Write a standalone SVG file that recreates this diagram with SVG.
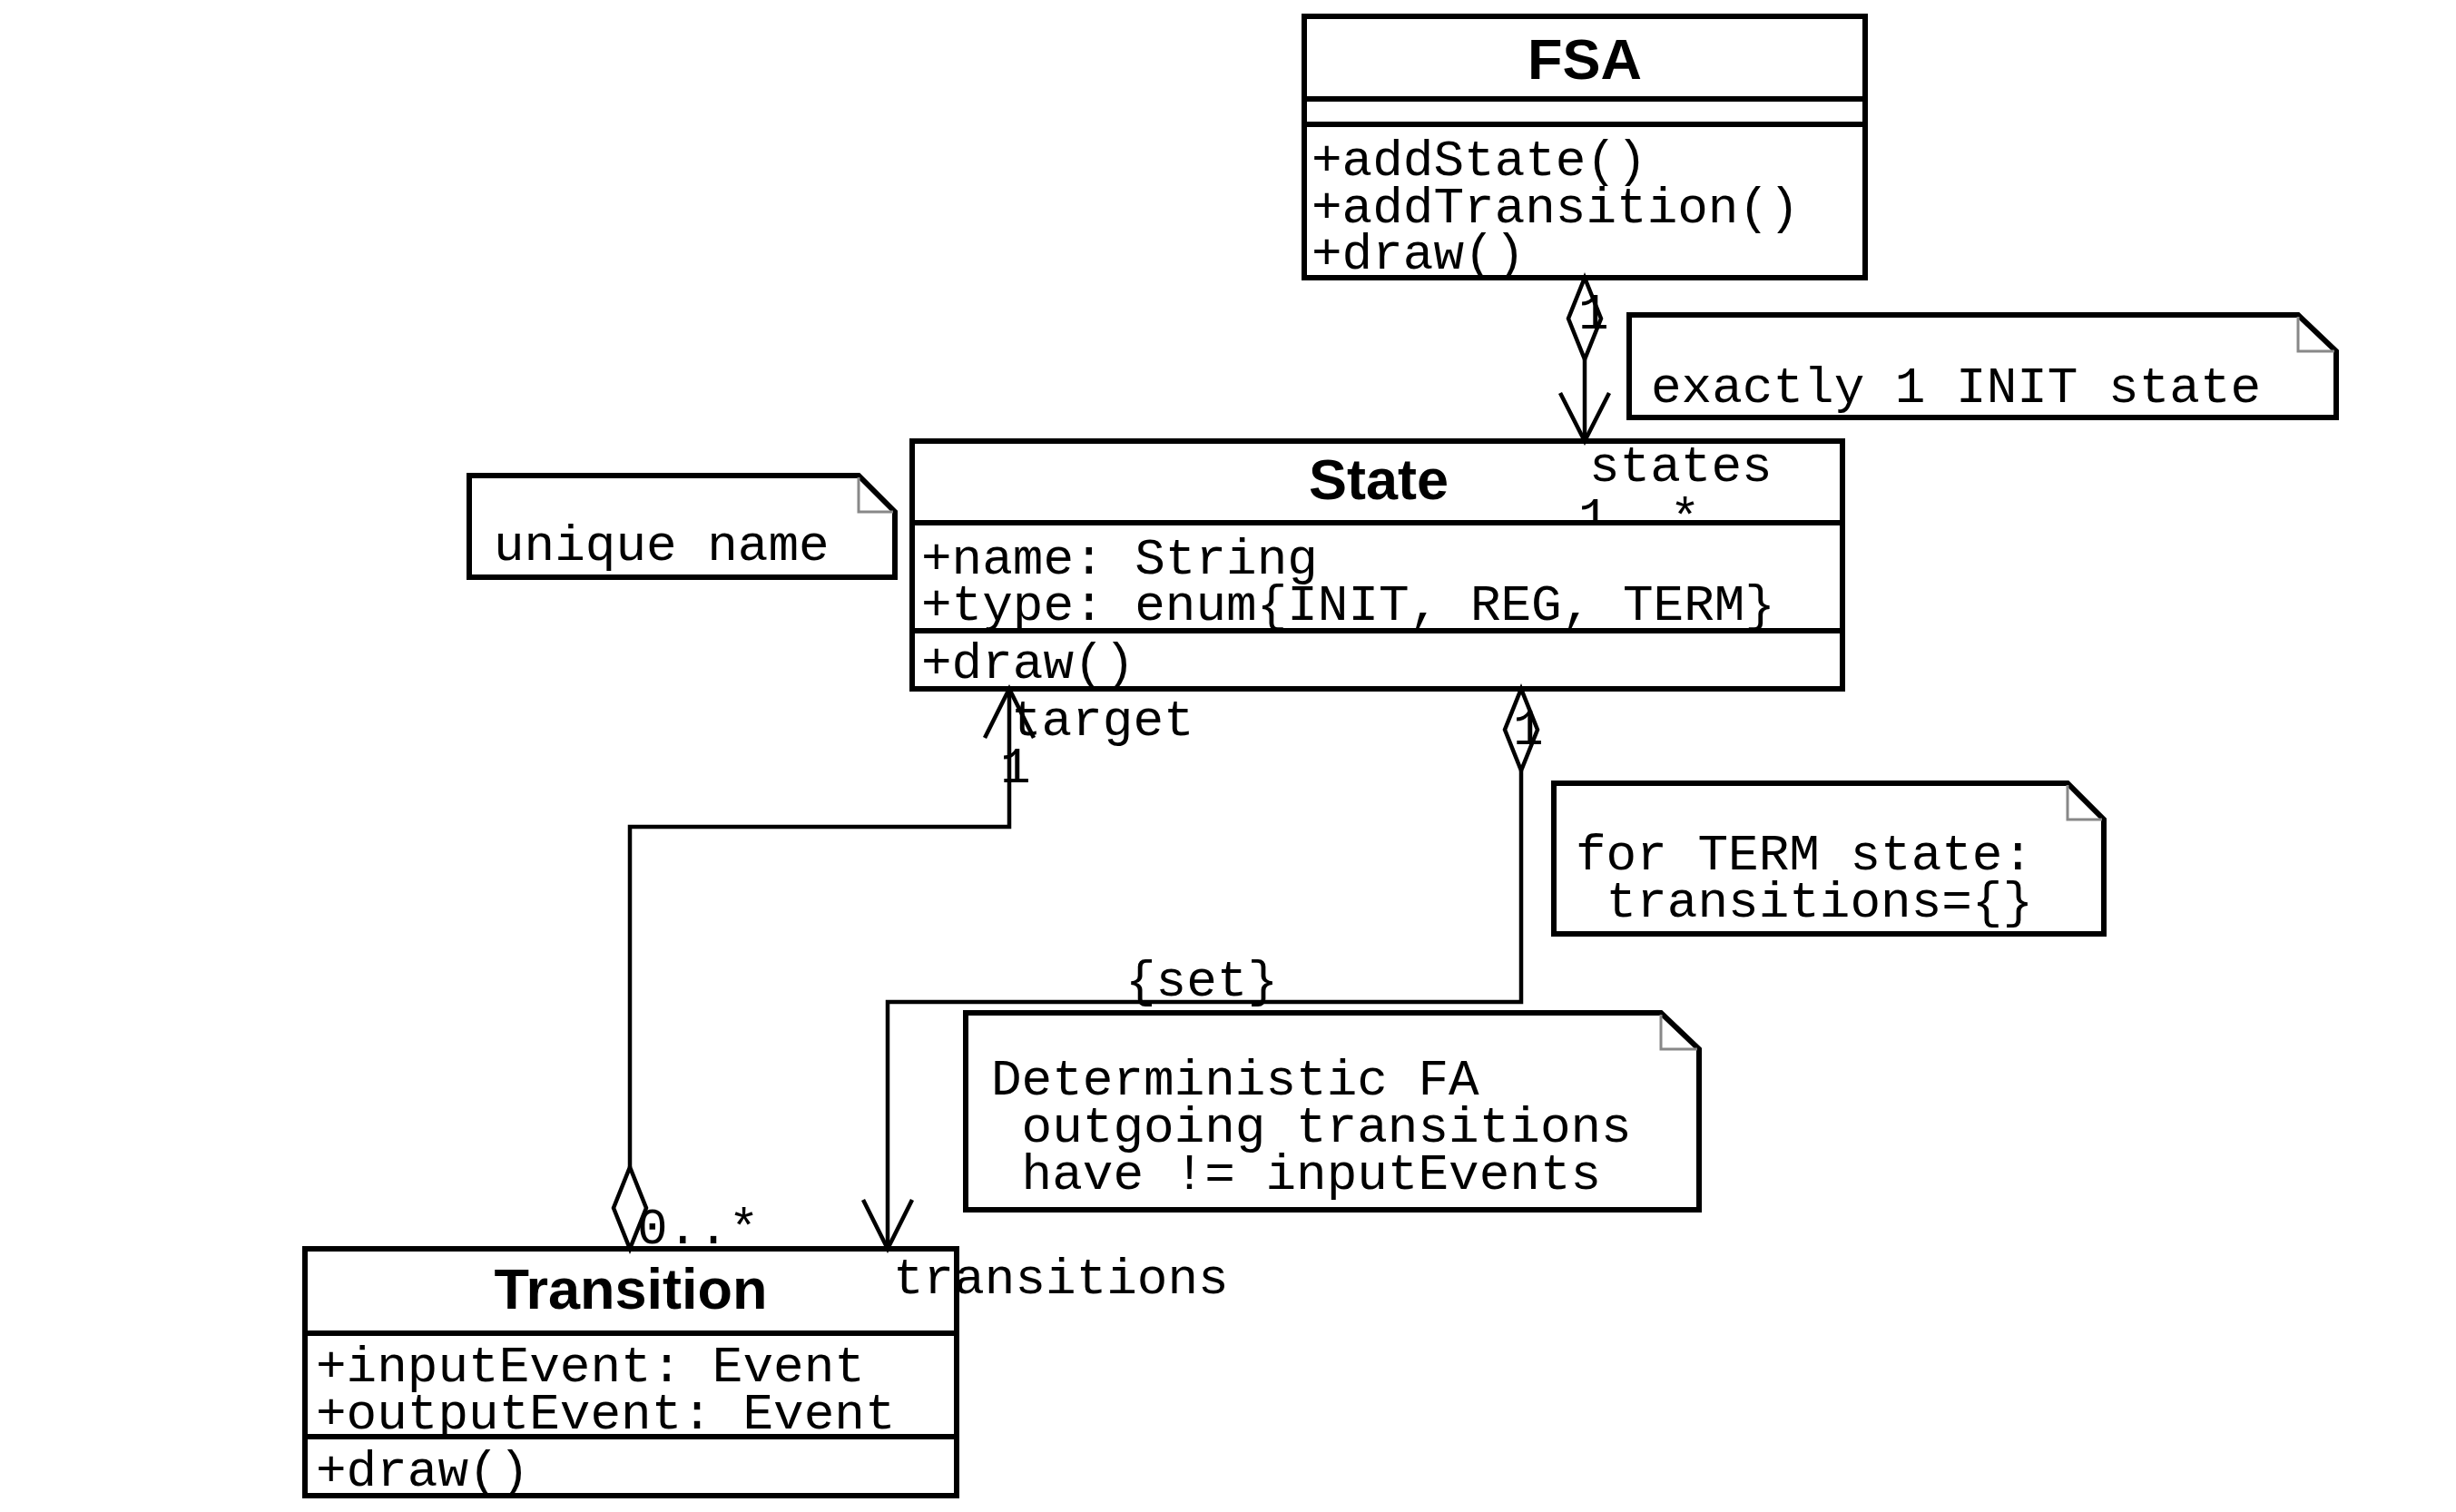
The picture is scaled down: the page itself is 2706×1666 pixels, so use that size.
<svg xmlns="http://www.w3.org/2000/svg" width="2706" height="1666" viewBox="0 0 2706 1666">
<style>
.box{fill:#fff;stroke:#000;stroke-width:6}
.sep{stroke:#000;stroke-width:6}
.note{fill:#fff;stroke:#000;stroke-width:6;stroke-linejoin:miter}
.fold{fill:none;stroke:#888;stroke-width:3}
.conn{fill:none;stroke:#000;stroke-width:4.5}
.dia{fill:#fff;stroke:#000;stroke-width:4.5}
.title{font-family:"Liberation Sans",Arial,sans-serif;font-weight:bold;font-size:63px;text-anchor:middle}
.mono{font-family:"Liberation Mono","Courier New",monospace;font-size:56px;white-space:pre}
</style>
<defs>
<clipPath id="clipStates"><rect x="1700" y="470" width="300" height="103"/></clipPath>
</defs>
<rect width="2706" height="1666" fill="#fff"/>

<g id="note-init">
<path class="note" d="M1795,347 L2532,347 L2574,387 L2574,460 L1795,460 Z"/>
<polyline class="fold" points="2532,349 2532,387 2572,387"/>
<text class="mono" x="1819" y="443">exactly 1 INIT state</text>
</g>

<g id="note-unique">
<path class="note" d="M517,524 L946,524 L986,564 L986,636 L517,636 Z"/>
<polyline class="fold" points="946,526 946,564 984,564"/>
<text class="mono" x="544" y="617">unique name</text>
</g>

<g id="note-term">
<path class="note" d="M1712,863 L2278,863 L2318,903 L2318,1029 L1712,1029 Z"/>
<polyline class="fold" points="2278,865 2278,903 2316,903"/>
<text class="mono" x="1736" y="958" xml:space="preserve">for TERM state:</text>
<text class="mono" x="1736" y="1010" xml:space="preserve"> transitions={}</text>
</g>

<g id="note-dfa">
<path class="note" d="M1064,1116 L1830,1116 L1872,1156 L1872,1333 L1064,1333 Z"/>
<polyline class="fold" points="1830,1118 1830,1156 1870,1156"/>
<text class="mono" x="1092" y="1206" xml:space="preserve">Deterministic FA</text>
<text class="mono" x="1092" y="1258" xml:space="preserve"> outgoing transitions</text>
<text class="mono" x="1092" y="1310" xml:space="preserve"> have != inputEvents</text>
</g>

<g id="FSA">
<rect class="box" x="1437" y="18" width="618" height="288"/>
<line class="sep" x1="1437" y1="109" x2="2055" y2="109"/>
<line class="sep" x1="1437" y1="137" x2="2055" y2="137"/>
<text class="title" x="1746" y="87">FSA</text>
<text class="mono" x="1445" y="193">+addState()</text>
<text class="mono" x="1445" y="245">+addTransition()</text>
<text class="mono" x="1445" y="296">+draw()</text>
</g>

<g id="State">
<rect class="box" x="1005" y="486" width="1025" height="273"/>
<line class="sep" x1="1005" y1="576" x2="2030" y2="576"/>
<line class="sep" x1="1005" y1="695" x2="2030" y2="695"/>
<text class="title" x="1519" y="550">State</text>
<text class="mono" x="1015" y="632">+name: String</text>
<text class="mono" x="1015" y="683">+type: enum{INIT, REG, TERM}</text>
<text class="mono" x="1015" y="747">+draw()</text>
</g>

<g id="Transition">
<rect class="box" x="336" y="1376" width="718" height="272"/>
<line class="sep" x1="336" y1="1469" x2="1054" y2="1469"/>
<line class="sep" x1="336" y1="1583" x2="1054" y2="1583"/>
<text class="title" x="695" y="1442">Transition</text>
<text class="mono" x="348" y="1522">+inputEvent: Event</text>
<text class="mono" x="348" y="1574">+outputEvent: Event</text>
<text class="mono" x="348" y="1637">+draw()</text>
</g>

<g id="connectors">
<g id="fsa-states">
<line class="conn" x1="1746" y1="396" x2="1746" y2="486"/>
<polygon class="dia" points="1746,306 1764,351 1746,396 1728,351"/>
<polyline class="conn" points="1719,433 1746,486 1773,433"/>
<text class="mono" x="1739" y="362">1</text>
<text class="mono" x="1751" y="530">states</text>
<text class="mono" x="1739" y="587" clip-path="url(#clipStates)">1..*</text>
</g>
<g id="transition-target">
<polyline class="conn" points="694,1286 694,911 1112,911 1112,759"/>
<text class="mono" x="702" y="1370">0..*</text>
<polygon class="dia" points="694,1376 712,1331 694,1286 676,1331"/>
<polyline class="conn" points="1085,813 1112,759 1139,813"/>
<text class="mono" x="1114" y="810">target</text>
<text class="mono" x="1102" y="862">1</text>
</g>
<g id="state-transitions">
<polyline class="conn" points="1676,849 1676,1104 978,1104 978,1376"/>
<polygon class="dia" points="1676,759 1694,804 1676,849 1658,804"/>
<polyline class="conn" points="951,1322 978,1376 1005,1322"/>
<text class="mono" x="1667" y="820">1</text>
<text class="mono" x="1240" y="1097">{set}</text>
<text class="mono" x="984" y="1425">transitions</text>
</g>
</g>
</svg>
